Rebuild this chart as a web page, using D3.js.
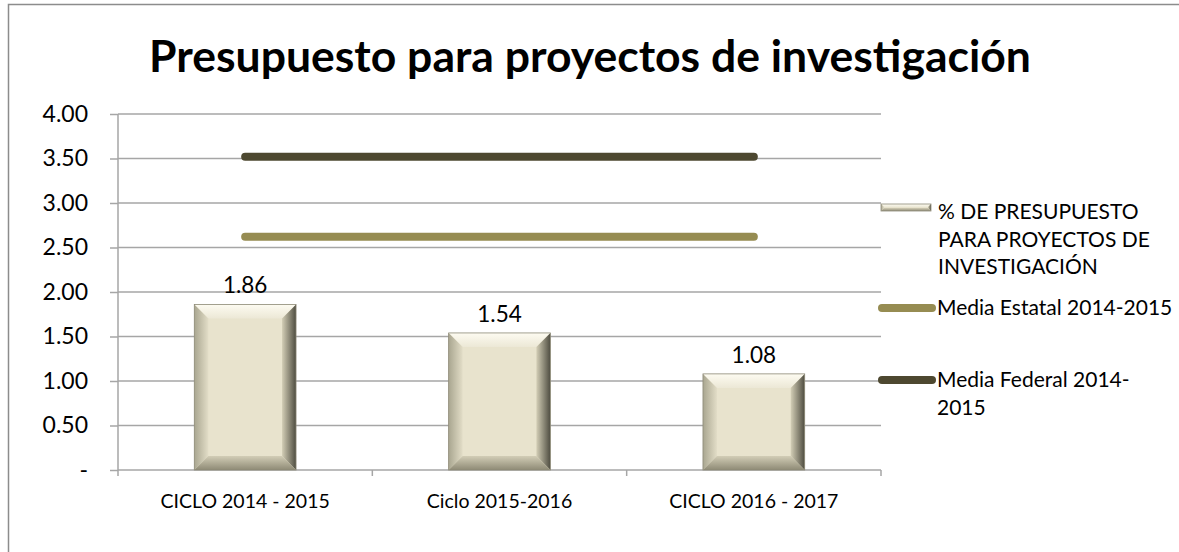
<!DOCTYPE html>
<html>
<head>
<meta charset="utf-8">
<script src="https://cdn.jsdelivr.net/npm/d3@7"></script>
<style>
  html, body { margin: 0; padding: 0; background: #fff; }
  svg { display: block; font-family: Lato, "Open Sans", sans-serif; }
</style>
</head>
<body>
<div class="chart"></div>
<script>
// datos del grafico
const categories = ["CICLO 2014 - 2015", "Ciclo 2015-2016", "CICLO 2016 - 2017"];
const presupuesto = [1.86, 1.54, 1.08];
const mediaEstatal = [2.62, 2.62, 2.62];
const mediaFederal = [3.52, 3.52, 3.52];
const yTicks = [0, 0.5, 1, 1.5, 2, 2.5, 3, 3.5, 4];
const legendLines = [
  ["% DE PRESUPUESTO", "PARA PROYECTOS DE", "INVESTIGACIÓN"],
  ["Media Estatal 2014-2015"],
  ["Media Federal 2014-", "2015"]
];

const W = 1179, H = 552;
const plot = {left: 118, right: 881, top: 114, bottom: 470};

const svg = d3.select('.chart').append('svg')
  .attr('width', W).attr('height', H);

// gradientes para el bisel
const defs = svg.append('defs');
function grad(id, x2, y2, c1, c2) {
  const g = defs.append('linearGradient').attr('id', id)
    .attr('x1', 0).attr('y1', 0).attr('x2', x2).attr('y2', y2);
  g.append('stop').attr('offset', '0%').attr('stop-color', c1);
  g.append('stop').attr('offset', '100%').attr('stop-color', c2);
}
grad('gTop', 0, 1, '#fdfbf1', '#ece8d6');
grad('gLeft', 1, 0, '#a9a690', '#e2ddc7');
grad('gRight', 1, 0, '#d3ceb6', '#4f4d41');
grad('gBottom', 0, 1, '#d2cdb6', '#8e8a75');

// borde exterior
svg.append('rect')
  .attr('x', 8.5).attr('y', 4.5).attr('width', W + 20).attr('height', H + 20)
  .attr('fill', 'none').attr('stroke', '#8c8c8c').attr('stroke-width', 1.5);

// titulo
svg.append('text')
  .attr('x', 590).attr('y', 72)
  .attr('text-anchor', 'middle')
  .attr('font-size', 44.5).attr('font-weight', 'bold').attr('fill', '#000')
  .text('Presupuesto para proyectos de investigación');

const x = d3.scaleBand().domain(categories)
  .range([plot.left, plot.right]).paddingInner(0.6).paddingOuter(0.3);
const xStep = d3.scaleBand().domain(categories)
  .range([plot.left, plot.right]).padding(0);
const y = d3.scaleLinear().domain([0, 4]).range([plot.bottom, plot.top]);

// lineas de cuadricula
svg.append('g').selectAll('line').data(yTicks.filter(d => d > 0)).enter()
  .append('line')
  .attr('x1', plot.left).attr('x2', plot.right)
  .attr('y1', d => y(d)).attr('y2', d => y(d))
  .attr('stroke', '#a6a6a6').attr('stroke-width', 1.5);

// eje y
const yAxis = svg.append('g').attr('transform', `translate(${plot.left},0)`)
  .call(d3.axisLeft(y).tickValues(yTicks).tickSize(8).tickPadding(22)
    .tickFormat(d => d === 0 ? '-' : d.toFixed(2)));
yAxis.select('.domain').attr('stroke', '#a6a6a6').attr('stroke-width', 1.5)
  .attr('d', `M0,${plot.top}V${plot.bottom + 6}`);
yAxis.selectAll('.tick line').attr('stroke', '#a6a6a6').attr('stroke-width', 1.5);
yAxis.selectAll('.tick text').attr('font-size', 23).attr('fill', '#000')
  .attr('font-family', 'Lato, sans-serif');

// eje x
const xAxis = svg.append('g').attr('transform', `translate(0,${plot.bottom})`)
  .call(d3.axisBottom(xStep).tickSize(0).tickPadding(24));
xAxis.select('.domain').remove();
xAxis.selectAll('.tick text').attr('font-size', 19.5).attr('fill', '#000')
  .attr('font-family', 'Lato, sans-serif');
svg.append('line')
  .attr('x1', plot.left).attr('x2', plot.right)
  .attr('y1', plot.bottom).attr('y2', plot.bottom)
  .attr('stroke', '#a6a6a6').attr('stroke-width', 1.5);
svg.append('g').selectAll('line').data(categories).enter()
  .append('line')
  .attr('x1', d => xStep(d) + xStep.bandwidth()).attr('x2', d => xStep(d) + xStep.bandwidth())
  .attr('y1', plot.bottom).attr('y2', plot.bottom + 6)
  .attr('stroke', '#a6a6a6').attr('stroke-width', 1.5);

// barra con bisel
function bevelBar(g, x0, y0, x1, y1, b) {
  const bb = Math.min(b, (x1 - x0) / 2, (y1 - y0) / 2);
  const pts = arr => arr.map(p => p.join(',')).join(' ');
  g.append('rect').attr('x', x0).attr('y', y0).attr('width', x1 - x0).attr('height', y1 - y0)
    .attr('fill', '#e8e3cd');
  g.append('polygon').attr('points', pts([[x0, y0], [x1, y0], [x1 - bb, y0 + bb], [x0 + bb, y0 + bb]]))
    .attr('fill', 'url(#gTop)');
  g.append('polygon').attr('points', pts([[x0, y0], [x0 + bb, y0 + bb], [x0 + bb, y1 - bb], [x0, y1]]))
    .attr('fill', 'url(#gLeft)');
  g.append('polygon').attr('points', pts([[x1, y0], [x1, y1], [x1 - bb, y1 - bb], [x1 - bb, y0 + bb]]))
    .attr('fill', 'url(#gRight)');
  g.append('polygon').attr('points', pts([[x0, y1], [x1, y1], [x1 - bb, y1 - bb], [x0 + bb, y1 - bb]]))
    .attr('fill', 'url(#gBottom)');
  g.append('rect').attr('x', x0).attr('y', y0).attr('width', x1 - x0).attr('height', y1 - y0)
    .attr('fill', 'none').attr('stroke', '#8d8a78').attr('stroke-width', 0.8);
}

const bars = svg.append('g');
presupuesto.forEach((v, i) => {
  const c = categories[i];
  bevelBar(bars, x(c), y(v), x(c) + x.bandwidth(), y(0), 14);
});

// etiquetas de datos
svg.append('g').selectAll('text').data(presupuesto).enter()
  .append('text')
  .attr('x', (d, i) => x(categories[i]) + x.bandwidth() / 2)
  .attr('y', d => y(d) - 11)
  .attr('text-anchor', 'middle')
  .attr('font-size', 22.5).attr('fill', '#000')
  .text(d => d.toFixed(2));

// lineas de medias
const line = d3.line()
  .x((d, i) => x(categories[i]) + x.bandwidth() / 2)
  .y(d => y(d));
svg.append('path').datum(mediaEstatal)
  .attr('d', line).attr('fill', 'none')
  .attr('stroke', '#968c52').attr('stroke-width', 8).attr('stroke-linecap', 'round');
svg.append('path').datum(mediaFederal)
  .attr('d', line).attr('fill', 'none')
  .attr('stroke', '#4d4830').attr('stroke-width', 8).attr('stroke-linecap', 'round');

// leyenda
const lg = svg.append('g');
bevelBar(lg, 881, 204, 931, 211, 3);
lg.append('line').attr('x1', 882).attr('x2', 932).attr('y1', 308).attr('y2', 308)
  .attr('stroke', '#968c52').attr('stroke-width', 8).attr('stroke-linecap', 'round');
lg.append('line').attr('x1', 882).attr('x2', 932).attr('y1', 380).attr('y2', 380)
  .attr('stroke', '#4d4830').attr('stroke-width', 8).attr('stroke-linecap', 'round');

const legendY = [219, 315, 387];
const legendX = [938, 937, 937];
legendLines.forEach((ls, i) => {
  const t = lg.append('text').attr('font-size', 21).attr('fill', '#000');
  ls.forEach((s, j) => {
    t.append('tspan').attr('x', legendX[i]).attr('y', legendY[i] + j * 27.5).text(s);
  });
});
</script>
</body>
</html>
